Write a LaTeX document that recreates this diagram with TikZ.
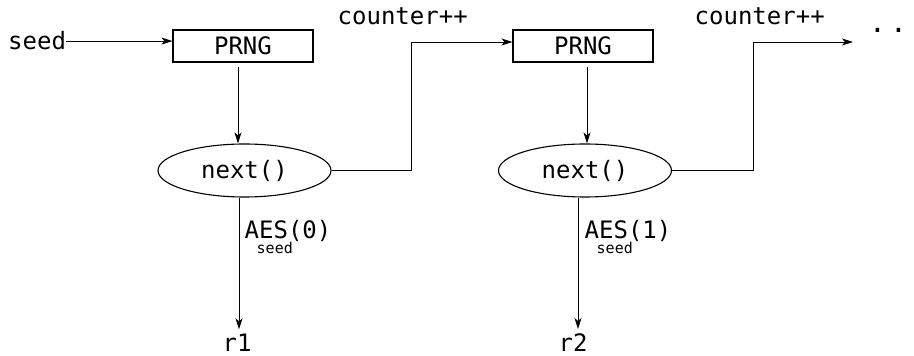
\documentclass[tikz,border=0pt]{standalone}
\usepackage{fontspec}
\setmainfont{DejaVu Sans Mono}
\usetikzlibrary{arrows.meta,shapes.geometric}
\begin{document}
\begin{tikzpicture}[x=1pt,y=1pt,
  every node/.style={inner sep=0pt, font=\fontsize{24}{28}\selectfont},
  box/.style={draw, line width=1.1pt, minimum width=140pt, minimum height=32pt},
  call/.style={ellipse, draw, line width=1.1pt, minimum width=173pt, minimum height=53pt},
  link/.style={line width=0.8pt, -{Stealth[length=11pt,width=7pt,inset=3pt]}},
  subtext/.style={font=\fontsize{15}{18}\selectfont},
]
\useasboundingbox (0,0) rectangle (914,356);

% first stage
\node[anchor=base west] (seed) at (8,306) {seed};
\node[box] (prng1) at (243,310) {PRNG};
\node[call] (next1) at (244.5,185.5) {next()};
\node[anchor=base west] (aes1) at (244.5,117) {AES(0)};
\node[anchor=base west, subtext] (key1) at (256.5,102) {seed};
\node[anchor=base] (r1) at (237,4) {r1};
\node[anchor=base west] (inc1) at (337.5,331) {counter++};

% second stage
\node[box] (prng2) at (583,310) {PRNG};
\node[call] (next2) at (585,185.5) {next()};
\node[anchor=base west] (aes2) at (584.5,117) {AES(1)};
\node[anchor=base west, subtext] (key2) at (596.5,102) {seed};
\node[anchor=base] (r2) at (573,4) {r2};
\node[anchor=base west] (inc2) at (694.5,331) {counter++};
\node[anchor=base west, font=\fontsize{28}{32}\selectfont] (dots) at (869,323) {.\hspace{4pt}.\hspace{4pt}.};

\coordinate (bend1) at (411,314);
\coordinate (bend2) at (753,314);
\coordinate (more) at (853,314);

% connectors
\draw[link] (seed.east) -- (seed.east -| prng1.west);
\draw[link] ([xshift=-5pt,yshift=-4pt]prng1.south) -- ([xshift=-5pt]prng1.south |- next1.north);
\draw[link] (next1.east) -| (bend1) -- (bend1 -| prng2.west);
\draw[link] ([xshift=2pt]r1.north |- next1.south) -- ([xshift=2pt,yshift=5pt]r1.north);

\draw[link] ([xshift=4pt,yshift=-4pt]prng2.south) -- ([xshift=4pt]prng2.south |- next2.north);
\draw[link] (next2.east) -| (bend2) -- (more);
\draw[link] ([xshift=5pt]r2.north |- next2.south) -- ([xshift=5pt,yshift=5pt]r2.north);
\end{tikzpicture}
\end{document}
